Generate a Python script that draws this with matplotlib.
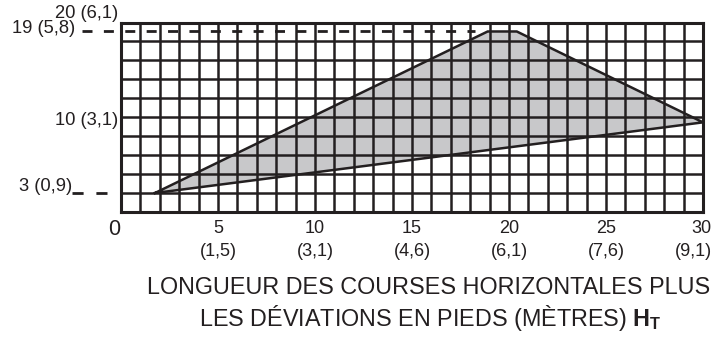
import numpy as np
from matplotlib import pyplot as plt

plt.rcParams["font.family"] = "Liberation Sans"
plt.rcParams["mathtext.fontset"] = "custom"
plt.rcParams["mathtext.rm"] = "Liberation Sans"
plt.rcParams["mathtext.bf"] = "Liberation Sans:bold"

INK = "#231f20"
SHADE = "#c8c8ca"

# horizontal length (ft) and metric equivalent
x_ticks = [5, 10, 15, 20, 25, 30]
x_metres = ["1,5", "3,1", "4,6", "6,1", "7,6", "9,1"]

# vertical marks (ft) and their labels
y_marks = [3, 10, 19, 20]
y_labels = ["3 (0,9)", "10 (3,1)", "19 (5,8)", "20 (6,1)"]

# shaded acceptable zone
zone_x = [1.75, 18.9, 20.4, 30, 1.75]
zone_y = [3, 19, 19, 10, 3]

# grid spacing of the chart paper
grid_x = np.arange(1, 30)
grid_y = 3 + 1.88 * np.arange(0, 9)

fig = plt.figure(figsize=(7.28, 3.37), dpi=100)
ax = fig.add_axes([121 / 728, 1 - 212 / 337, 582 / 728, 189 / 337])
ax.set_xlim(0, 30)
ax.set_ylim(3 - 1.88, 19.84)

ax.set_xticks(grid_x)
ax.set_yticks(grid_y)
ax.tick_params(length=0, labelbottom=False, labelleft=False)
ax.grid(True, color=INK, linewidth=1.8)
for sp in ax.spines.values():
    sp.set_color(INK)
    sp.set_linewidth(2.2)

ax.fill(zone_x, zone_y, facecolor=SHADE, edgecolor="none", zorder=1)
ax.plot(zone_x, zone_y, color=INK, linewidth=1.8, zorder=3, clip_on=False,
        solid_joinstyle="miter")

# leader lines for 19 ft and 3 ft
ax.plot([-2.0, 18.25], [19, 19], color=INK, linewidth=2.0, clip_on=False,
        linestyle=(0, (3.6, 4.1)), zorder=3)
ax.plot([-2.53, 0], [3, 3], color=INK, linewidth=2.0, clip_on=False,
        linestyle=(0, (4.0, 4.6)), zorder=3)

# y labels
label_pos = {3: (-2.53, 3.6), 10: (-0.15, 10.16), 19: (-2.37, 19.3), 20: (-0.15, 20.8)}
for v, lab in zip(y_marks, y_labels):
    lx, ly = label_pos[v]
    ax.text(lx, ly, lab, ha="right", va="center", fontsize=13.2, color=INK)

# x labels
ax.text(-0.36, -0.58, "0", ha="center", va="center", fontsize=15.5, color=INK)
for v, m in zip(x_ticks, x_metres):
    xx, ha = (v, "center") if v < 30 else (v + 0.46, "right")
    ax.text(xx, -0.48, str(v), ha=ha, va="center", fontsize=13, color=INK)
    ax.text(xx, -2.77, f"({m})", ha=ha, va="center", fontsize=13, color=INK)

fig.text(429 / 728, 1 - 287 / 337, "LONGUEUR DES COURSES HORIZONTALES PLUS",
         ha="center", va="center", fontsize=16.8, color=INK)
fig.text(430 / 728, 1 - 318 / 337,
         r"LES DÉVIATIONS EN PIEDS (MÈTRES) $\mathbf{H}_\mathbf{T}$",
         ha="center", va="center", fontsize=16.8, color=INK)

fig.savefig("out.png", dpi=100)
